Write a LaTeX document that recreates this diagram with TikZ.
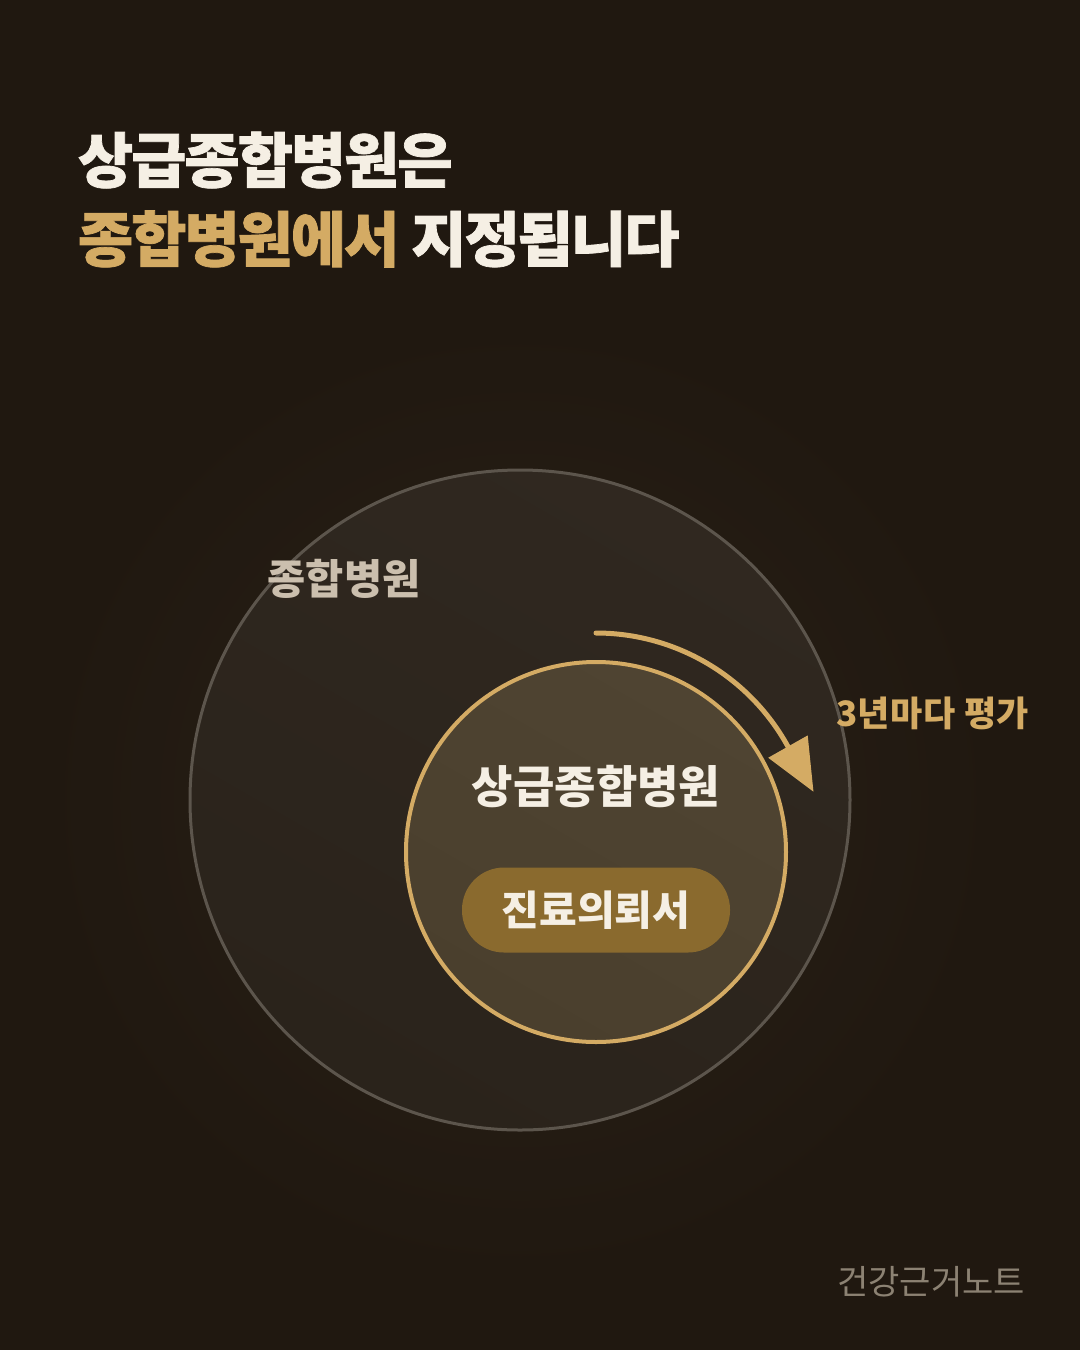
\documentclass[tikz,border=0pt]{standalone}
\usepackage{fontspec}
\usetikzlibrary{arrows.meta}
\newfontfamily\kr{Noto Sans CJK KR}
\newfontfamily\krtitle{Noto Sans CJK KR}[LetterSpace=-3.3, BoldFeatures={FakeBold=1.2}]
\newfontfamily\krwide{Noto Sans CJK KR}[LetterSpace=1.5]
\definecolor{bg}{HTML}{201810}
\definecolor{glow}{HTML}{2A2118}
\definecolor{outerfill}{HTML}{302820}
\definecolor{outerfillb}{HTML}{2A231B}
\definecolor{outerline}{HTML}{5C554C}
\definecolor{innerfill}{HTML}{4A3F2D}
\definecolor{innerfillb}{HTML}{4F4432}
\definecolor{gold}{HTML}{D4AB64}
\definecolor{cream}{HTML}{F5EFE4}
\definecolor{pillfill}{HTML}{8A6A2E}
\definecolor{graylabel}{HTML}{CBBFAE}
\definecolor{brand}{HTML}{8C8273}
\tikzset{
  txt/.style={inner sep=0pt, outer sep=0pt},
  titletext/.style={txt, anchor=west, font=\krtitle\bfseries\fontsize{60}{66}\selectfont},
  arcarrow/.style={draw=gold, line width=5pt, line cap=round,
    -{Triangle[length=52pt,width=44pt]}},
}
\begin{document}
\begin{tikzpicture}[x=1pt,y=-1pt]
  \fill[bg] (0,0) rectangle (1080,1350);
  \useasboundingbox (0,0) rectangle (1080,1350);
  \shade[inner color=glow, outer color=bg] (520,800) circle[radius=480];
  % outer circle
  \shade[top color=outerfill, bottom color=outerfillb, shading angle=-30] (520,800) circle[radius=330];
  \draw[outerline, line width=3pt] (520,800) circle[radius=330];
  % inner circle
  \shade[top color=innerfillb, bottom color=innerfill, shading angle=-30] (596,852) circle[radius=190];
  \draw[gold, line width=4pt] (596,852) circle[radius=190];
  % title
  \node[titletext, text=cream] (t1) at (78,160) {상급종합병원은};
  \node[titletext, text=gold] (t2) at (78,239) {종합병원에서};
  \node[titletext, text=cream, anchor=west] (t3) at ([xshift=12pt]t2.east) {지정됩니다};
  % labels
  \node[txt, text=graylabel, font=\kr\bfseries\fontsize{41.5}{44}\selectfont] (gen) at (344,579) {종합병원};
  \node[txt, text=cream, font=\kr\bfseries\fontsize{45}{50}\selectfont] (sup) at (596,787) {상급종합병원};
  \node[txt, fill=pillfill, rounded corners=42pt, minimum width=268pt, minimum height=85pt,
        text=cream, font=\kr\bfseries\fontsize{41}{44}\selectfont] (pill) at (596,910) {진료의뢰서};
  \node[txt, text=gold, font=\krwide\bfseries\fontsize{35}{38}\selectfont, anchor=west] (eval) at (836,713) {3년마다 평가};
  \node[txt, text=brand, font=\kr\fontsize{34}{38}\selectfont] (brandnode) at (931,1282) {건강근거노트};
  % arrow
  \coordinate (arcstart) at (596,633);
  \draw[arcarrow] (arcstart) arc[start angle=-90, end angle=-29, radius=219] -- ++(26,46);
\end{tikzpicture}
\end{document}
